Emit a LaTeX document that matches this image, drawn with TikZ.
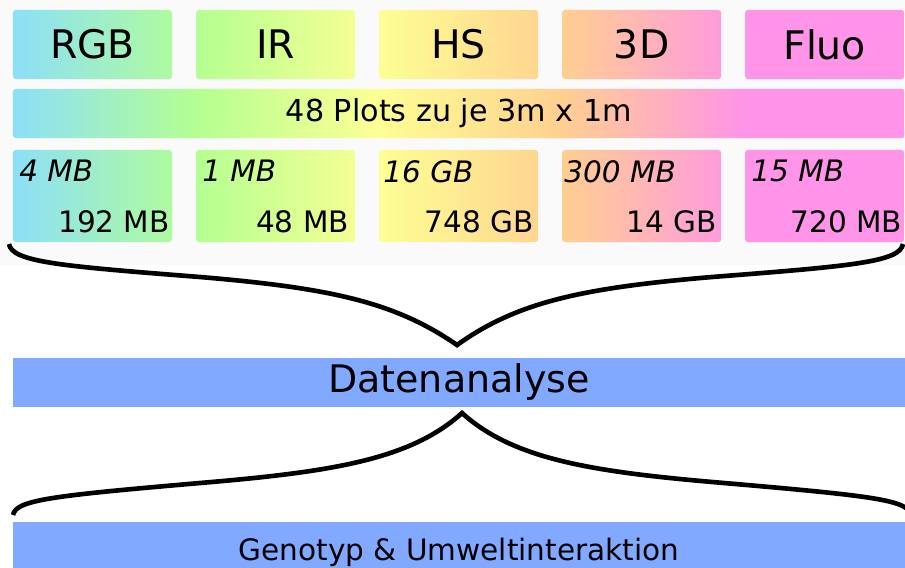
\documentclass[tikz,border=0pt]{standalone}
\usepackage{fontspec}
\setmainfont{DejaVu Sans}
\usetikzlibrary{positioning, backgrounds}
\definecolor{cCyan}{HTML}{8CDFF8}
\definecolor{cGreen}{HTML}{B4FF92}
\definecolor{cYellow}{HTML}{FDFF93}
\definecolor{cOrange}{HTML}{FFCF90}
\definecolor{cPink}{HTML}{FF94E8}
\definecolor{cBar}{HTML}{80A9FF}
\definecolor{cBack}{HTML}{FAFAFA}
\pgfdeclarehorizontalshading{spectrum}{100bp}{color(0bp)=(cCyan); color(25bp)=(cCyan); color(35.3bp)=(cGreen); color(45.5bp)=(cYellow); color(55.8bp)=(cOrange); color(66.1bp)=(cPink); color(75bp)=(cPink); color(100bp)=(cPink)}
\tikzset{
    sensor/.style = {rectangle, minimum width=3.975cm, minimum height=1.725cm, inner sep=0pt, outer sep=0pt, font=\fontsize{28}{33}\selectfont},
    datasize/.style = {rectangle, minimum width=3.975cm, minimum height=2.3cm, inner sep=0pt, outer sep=0pt},
    perplot/.style = {anchor=north west, inner sep=0pt, font=\fontsize{21}{25}\selectfont\itshape},
    total/.style = {anchor=base east, inner sep=0pt, font=\fontsize{21}{25}\selectfont},
    wide/.style = {rectangle, minimum width=22.3cm, minimum height=1.225cm, inner sep=0pt, outer sep=0pt},
    result/.style = {wide, fill=cBar},
    brace/.style = {draw, line width=3.3pt, line join=miter}
}

\begin{document}
\begin{tikzpicture}[x=0.025cm, y=-0.025cm]
        \useasboundingbox (0,0) rectangle (905,567);

        % Sensors
        \node [sensor] (rgb) at (92.5,44.5) {RGB};
        \node [sensor, right=0.6cm of rgb] (ir) {IR};
        \node [sensor, right=0.6cm of ir] (hs) {HS};
        \node [sensor, right=0.6cm of hs] (threeD) {3D};
        \node [sensor, right=0.6cm of threeD] (fluo) {Fluo};

        % Plots
        \node [wide, font=\fontsize{21.5}{25}\selectfont] (plots) at (459,113.5) {48 Plots zu je 3m x 1m};

        % Data sizes
        \node [datasize] (rgbData) at (92.5,196) {};
        \node [datasize, right=0.6cm of rgbData] (irData) {};
        \node [datasize, right=0.6cm of irData] (hsData) {};
        \node [datasize, right=0.6cm of hsData] (threeDData) {};
        \node [datasize, right=0.6cm of threeDData] (fluoData) {};

        \node [perplot] (rgbPer) at ([xshift=0.15cm, yshift=-0.25cm]rgbData.north west) {4 MB};
        \node [perplot] (irPer) at ([xshift=0.15cm, yshift=-0.25cm]irData.north west) {1 MB};
        \node [perplot] (hsPer) at ([xshift=0.1cm, yshift=-0.25cm]hsData.north west) {16 GB};
        \node [perplot] (threeDPer) at ([xshift=0.05cm, yshift=-0.25cm]threeDData.north west) {300 MB};
        \node [perplot] (fluoPer) at ([xshift=0.15cm, yshift=-0.25cm]fluoData.north west) {15 MB};

        \node [total] (rgbTotal) at ([xshift=-0.05cm, yshift=0.25cm]rgbData.south east) {192 MB};
        \node [total] (irTotal) at ([xshift=-0.15cm, yshift=0.25cm]irData.south east) {48 MB};
        \node [total] (hsTotal) at ([xshift=-0.1cm, yshift=0.25cm]hsData.south east) {748 GB};
        \node [total] (threeDTotal) at ([xshift=-0.1cm, yshift=0.25cm]threeDData.south east) {14 GB};
        \node [total] (fluoTotal) at ([xshift=-0.05cm, yshift=0.25cm]fluoData.south east) {720 MB};

        % Analysis
        \node [result, font=\fontsize{27}{32}\selectfont] (analyse) at (459,382.5) {Datenanalyse};
        \node [result, minimum height=1.5cm, font=\fontsize{21}{25}\selectfont] (geno) at (459,552) {Genotyp \& Umweltinteraktion};

        % Braces
        \coordinate (topLeft) at (9,244);
        \coordinate (topRight) at (903,244);
        \coordinate (topTip) at (457,345);
        \coordinate (lowLeft) at (13,515);
        \coordinate (lowRight) at (911,515);
        \coordinate (lowTip) at (462,413);

        \draw [brace] (topLeft) .. controls (12,262) and (60,266) .. (200,277)
            .. controls (330,288) and (395,302) .. (topTip)
            .. controls (517,302) and (582,288) .. (712,277)
            .. controls (852,266) and (900,262) .. (topRight);
        \draw [brace] (lowLeft) .. controls (16,500) and (50,496) .. (200,483)
            .. controls (330,472) and (410,460) .. (lowTip)
            .. controls (514,460) and (594,472) .. (724,483)
            .. controls (874,496) and (908,500) .. (lowRight);

        % Colour bands
        \begin{scope}[on background layer]
            \fill [cBack] (0,0) rectangle (905,265);
            \begin{scope}
                \clip [rounded corners=2pt] \foreach \n in {rgb, ir, hs, threeD, fluo, plots, rgbData, irData, hsData, threeDData, fluoData} {(\n.south west) rectangle (\n.north east)};
                \shade [shading=spectrum] (rgb.north west) rectangle (fluoData.south east);
            \end{scope}
        \end{scope}
\end{tikzpicture}
\end{document}
